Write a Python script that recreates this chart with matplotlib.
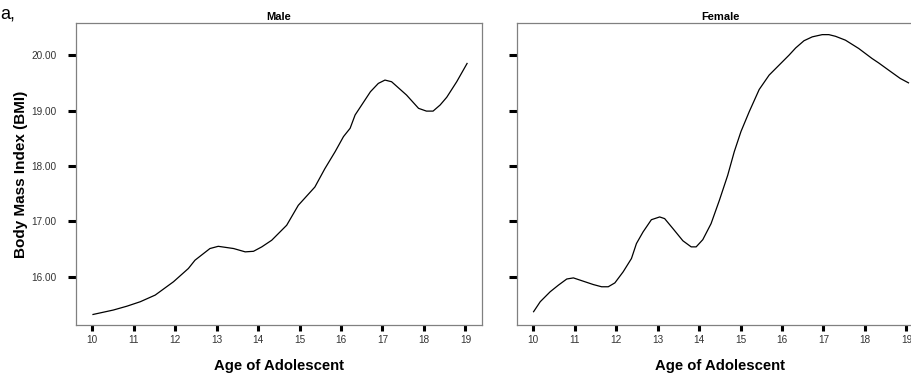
import matplotlib
matplotlib.use("Agg")
import matplotlib.pyplot as plt

plt.rcParams['font.family'] = ['Liberation Sans', 'DejaVu Sans']

male_age = [10.02, 10.51, 10.84, 11.16, 11.52, 11.96, 12.32, 12.48, 12.84, 13.04, 13.41, 13.69,
            13.89, 14.09, 14.33, 14.69, 14.97, 15.37, 15.61, 15.86, 16.06, 16.22, 16.34, 16.71,
            16.90, 17.06, 17.22, 17.58, 17.87, 18.06, 18.22, 18.39, 18.55, 18.79, 19.04]
male_bmi = [15.32, 15.40, 15.47, 15.55, 15.67, 15.91, 16.15, 16.30, 16.51, 16.55, 16.51, 16.45,
            16.46, 16.54, 16.66, 16.93, 17.29, 17.62, 17.95, 18.26, 18.53, 18.68, 18.92, 19.34,
            19.49, 19.55, 19.52, 19.28, 19.04, 18.99, 18.99, 19.10, 19.24, 19.52, 19.85]

female_age = [10.01, 10.17, 10.41, 10.61, 10.81, 10.97, 11.21, 11.45, 11.65, 11.81, 11.97, 12.17,
              12.37, 12.49, 12.65, 12.85, 13.05, 13.17, 13.37, 13.61, 13.81, 13.93, 14.09, 14.29,
              14.49, 14.69, 14.85, 15.01, 15.21, 15.45, 15.69, 15.93, 16.17, 16.33, 16.53, 16.73,
              16.97, 17.13, 17.29, 17.53, 17.85, 18.17, 18.33, 18.57, 18.85, 19.05]
female_bmi = [15.37, 15.55, 15.73, 15.85, 15.96, 15.98, 15.92, 15.86, 15.82, 15.82, 15.89, 16.09,
              16.33, 16.60, 16.81, 17.03, 17.08, 17.05, 16.87, 16.65, 16.54, 16.54, 16.67, 16.96,
              17.38, 17.83, 18.26, 18.62, 18.98, 19.38, 19.64, 19.82, 20.00, 20.13, 20.26, 20.33,
              20.37, 20.37, 20.34, 20.27, 20.12, 19.94, 19.86, 19.73, 19.58, 19.50]

x_ticks = list(range(10, 20))
y_ticks = [16, 17, 18, 19, 20]
y_tick_labels = ["16.00", "17.00", "18.00", "19.00", "20.00"]
panel_titles = ["Male", "Female"]

fig = plt.figure(figsize=(9.11, 3.76), dpi=100)
W, H = 911, 376
ax1 = fig.add_axes([76 / W, 51 / H, 406 / W, 302 / H])
ax2 = fig.add_axes([517 / W, 51 / H, 406 / W, 302 / H])

for i, (ax, xs, ys, title) in enumerate([(ax1, male_age, male_bmi, panel_titles[0]),
                                          (ax2, female_age, female_bmi, panel_titles[1])]):
    ax.plot(xs, ys, color='black', lw=0.9)
    ax.set_xlim(9.61, 19.4)
    ax.set_ylim(15.13, 20.58)
    ax.set_xticks(x_ticks)
    ax.set_yticks(y_ticks)
    if i == 0:
        ax.set_yticklabels(y_tick_labels)
    else:
        ax.set_yticklabels([])
    ax.tick_params(axis='y', length=6, width=2.2, color='black', pad=8,
                   labelsize=7.2, labelcolor='#333333')
    ax.tick_params(axis='x', length=4, width=2.2, color='black', pad=3,
                   labelsize=7.2, labelcolor='#333333')
    for s in ax.spines.values():
        s.set_color('#808080')
        s.set_linewidth(0.9)
    ax.set_title(title, fontsize=8, fontweight='bold', pad=2)
    ax.set_xlabel("Age of Adolescent", fontsize=10.7, fontweight='bold', labelpad=10)

fig.text(21.5 / W, 1 - 174 / H, "Body Mass Index (BMI)", rotation=90, fontsize=11,
         fontweight='bold', ha='center', va='center')
fig.text(0.0, 1 - 14 / H, "a,", fontsize=13, ha='left', va='center')

fig.savefig("out.png", dpi=100)
